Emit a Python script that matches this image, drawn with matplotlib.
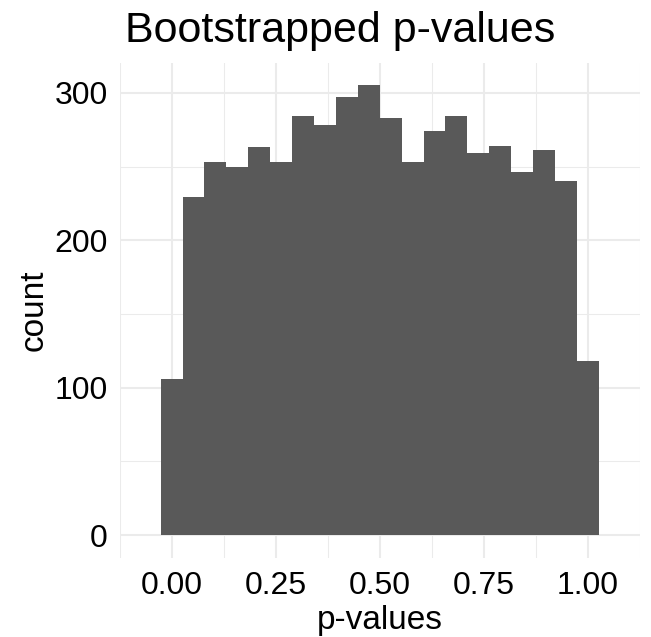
import matplotlib
matplotlib.use("Agg")
import matplotlib.pyplot as plt
import numpy as np

plt.rcParams['font.family'] = ['Liberation Sans', 'DejaVu Sans']

# histogram of bootstrapped p-values, 20 bins centred on 0 ... 1
counts = [106, 229, 253, 250, 263, 253, 284, 278, 297, 305,
          283, 253, 274, 284, 259, 264, 246, 261, 240, 118]
n_bins = len(counts)
bin_centers = np.linspace(0, 1, n_bins)
bin_width = 1 / (n_bins - 1)

x_ticks = [0.0, 0.25, 0.5, 0.75, 1.0]
x_ticklabels = ['0.00', '0.25', '0.50', '0.75', '1.00']
y_ticks = [0, 100, 200, 300]

fig = plt.figure(figsize=(6.51, 6.37), dpi=100)
ax = fig.add_axes([119.5 / 651, 1 - 557.5 / 637, 520.5 / 651, 494.5 / 637])

ax.bar(bin_centers, counts, width=bin_width, color='#595959', linewidth=0, zorder=2)

# ggplot style 5% expansion around the bars
lo = -bin_width / 2
hi = 1 + bin_width / 2
ex = (hi - lo) * 0.05
ax.set_xlim(lo - ex, hi + ex)
ymax = max(counts)
ax.set_ylim(-ymax * 0.05, ymax * 1.05)

ax.set_xticks(x_ticks)
ax.set_xticklabels(x_ticklabels)
ax.set_xticks([-0.125, 0.125, 0.375, 0.625, 0.875, 1.125], minor=True)
ax.set_yticks(y_ticks)
ax.set_yticks([50, 150, 250], minor=True)

ax.grid(which='major', color='#EBEBEB', linewidth=1.5, zorder=0)
ax.grid(which='minor', color='#EBEBEB', linewidth=0.75, zorder=0)
ax.set_axisbelow(True)
for s in ax.spines.values():
    s.set_visible(False)
ax.tick_params(which='both', length=0, labelsize=23, colors='black')
ax.tick_params(axis='x', pad=10)
ax.tick_params(axis='y', pad=8.5)

ax.set_xlabel('p-values', fontsize=24, labelpad=2.7)
ax.set_ylabel('count', fontsize=24, labelpad=3.5)
fig.text(125 / 651, 1 - 42 / 637, 'Bootstrapped p-values', fontsize=31,
         ha='left', va='baseline')

fig.savefig('out.png', dpi=100)
